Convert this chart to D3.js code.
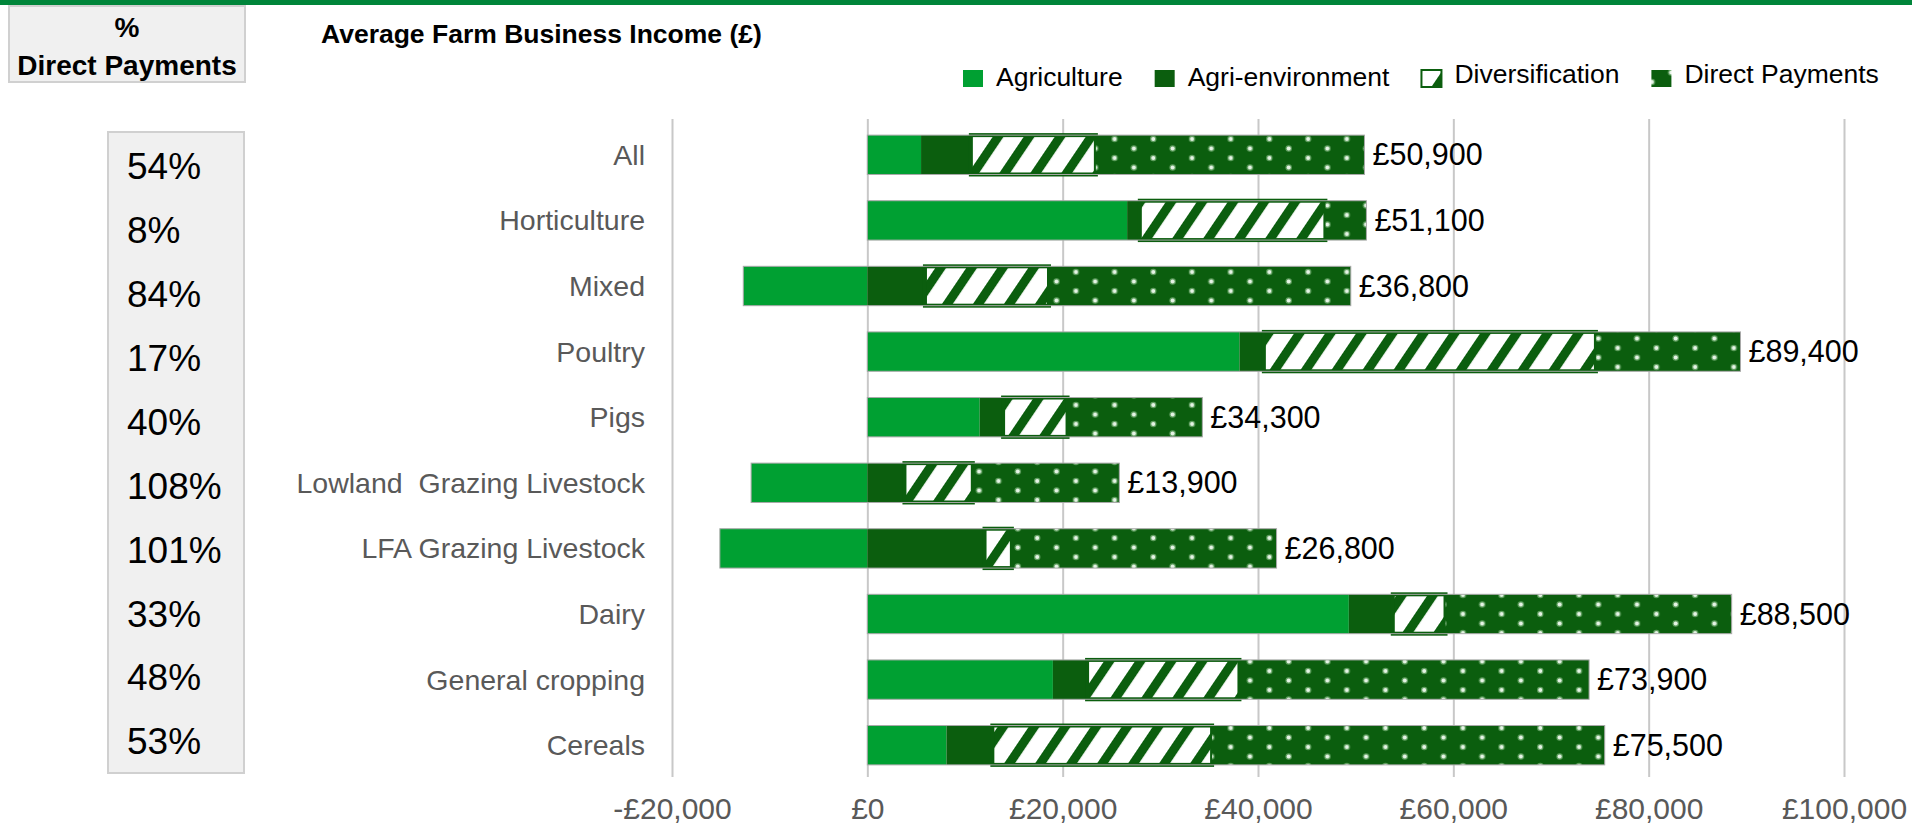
<!DOCTYPE html>
<html>
<head>
<meta charset="utf-8">
<script src="https://cdn.jsdelivr.net/npm/d3@7"></script>
<style>
  body { margin: 0; background: #fff; }
  svg { display: block; font-family: "Liberation Sans", Arial, sans-serif; }
</style>
</head>
<body>
<script>
// values (£ per farm)
const categories = ["All","Horticulture","Mixed","Poultry","Pigs","Lowland  Grazing Livestock","LFA Grazing Livestock","Dairy","General cropping","Cereals"]
const agriculture = [5500, 26600, -12700, 38100, 11500, -11900, -15100, 49300, 19000, 8100]
const agriEnvironment = [5100, 1300, 5900, 2500, 2400, 3800, 12000, 4500, 3500, 4700]
const diversification = [12800, 19000, 12700, 34000, 6600, 7000, 2800, 5400, 15600, 22500]
const directPayments = [27500, 4200, 30900, 14800, 13800, 15000, 27100, 29300, 35800, 40200]
const dpShare = [54, 8, 84, 17, 40, 108, 101, 33, 48, 53]
const seriesNames = ["Agriculture","Agri-environment","Diversification","Direct Payments"]
const xTicks = [-20000, 0, 20000, 40000, 60000, 80000, 100000]

const dark = "#0b5e0e"
const light = "#00a032"
const grey = "#595959"

var svg = d3.select("body").append("svg").attr("width", 1912).attr("height", 826)

// patterns for diversification (stripes) and direct payments (dots)
var defs = svg.append("defs")
var stripes = defs.append("pattern").attr("id", "stripes").attr("patternUnits", "userSpaceOnUse")
  .attr("width", 25.7).attr("height", 10).attr("patternTransform", "rotate(34)")
stripes.append("rect").attr("width", 25.7).attr("height", 10).attr("fill", "#fff")
stripes.append("rect").attr("width", 9).attr("height", 10).attr("fill", dark)

var dots = defs.append("pattern").attr("id", "dots").attr("patternUnits", "userSpaceOnUse")
  .attr("width", 38.7).attr("height", 19)
dots.append("rect").attr("width", 38.7).attr("height", 19).attr("fill", dark)
var dotPos = [[31, 6], [11.6, 15.5]]
dots.selectAll(".halo").data(dotPos).enter().append("circle")
  .attr("cx", d => d[0]).attr("cy", d => d[1]).attr("r", 3.2).attr("fill", "#5f9f5f")
dots.selectAll(".core").data(dotPos).enter().append("circle")
  .attr("cx", d => d[0]).attr("cy", d => d[1]).attr("r", 2).attr("fill", "#e6f4e6")

const fills = [light, dark, "url(#stripes)", "url(#dots)"]

// green rule on top
svg.append("rect").attr("x", 0).attr("y", 0).attr("width", 1912).attr("height", 5).attr("fill", "#00853a")

// "% Direct Payments" header
svg.append("rect").attr("x", 9).attr("y", 6).attr("width", 236).attr("height", 76)
  .attr("fill", "#f0f0f0").attr("stroke", "#d0d0d0").attr("stroke-width", 2)
svg.append("text").text("%").attr("x", 127).attr("y", 27).attr("dy", ".35em")
  .attr("text-anchor", "middle").style("font-weight", "bold").style("font-size", "28px")
svg.append("text").text("Direct Payments").attr("x", 127).attr("y", 65).attr("dy", ".35em")
  .attr("text-anchor", "middle").style("font-weight", "bold").style("font-size", "28px")

// title
svg.append("text").text("Average Farm Business Income (£)").attr("x", 321).attr("y", 34).attr("dy", ".35em")
  .style("font-weight", "bold").style("font-size", "26.5px")

// scales
var x = d3.scaleLinear().domain([-20000, 100000]).range([672, 1844])
var y = d3.scaleBand().domain(categories).range([122, 778]).paddingInner(0.4).paddingOuter(0.2)

// grid + tick labels
var fmt = d3.format(",")
var axis = d3.axisBottom(x).tickValues(xTicks).tickSize(-658).tickPadding(21)
  .tickFormat(d => d < 0 ? "-£" + fmt(-d) : "£" + fmt(d))
var gAxis = svg.append("g").attr("transform", "translate(0,777)").call(axis)
gAxis.select(".domain").remove()
gAxis.selectAll("line").attr("stroke", "#c8c8c8").attr("stroke-width", 2)
gAxis.selectAll("text").attr("fill", grey).style("font-size", "30px").style("font-family", "inherit")

// percentage box
svg.append("rect").attr("x", 108).attr("y", 132).attr("width", 136).attr("height", 641)
  .attr("fill", "#f0f0f0").attr("stroke", "#d0d0d0").attr("stroke-width", 2)
var yPct = d3.scaleBand().domain(categories).range([134, 773])
svg.selectAll(".pct").data(categories).enter().append("text")
  .text((d, i) => dpShare[i] + "%")
  .attr("x", 127).attr("y", d => yPct(d) + yPct.bandwidth() / 2).attr("dy", ".36em")
  .style("font-size", "37px")

// category labels
svg.selectAll(".cat").data(categories).enter().append("text")
  .text(d => d).style("white-space", "pre")
  .attr("x", 645).attr("y", d => y(d) + y.bandwidth() / 2).attr("dy", ".35em")
  .attr("text-anchor", "end").attr("fill", grey).style("font-size", "28.5px")

// stacked bars
var rows = categories.map((c, i) => ({cat: c, a: agriculture[i], b: agriEnvironment[i], c2: diversification[i], d: directPayments[i]}))
var stack = d3.stack().keys(["a", "b", "c2", "d"]).offset(d3.stackOffsetDiverging)
var layers = stack(rows)

svg.selectAll(".layer").data(layers).enter().append("g")
  .attr("fill", (d, i) => fills[i])
  .each(function(layer, li) {
    d3.select(this).selectAll("rect").data(layer).enter().append("rect")
      .attr("x", d => x(Math.min(d[0], d[1])))
      .attr("y", d => y(d.data.cat))
      .attr("width", d => Math.abs(x(d[1]) - x(d[0])))
      .attr("height", y.bandwidth())
      .attr("stroke", li == 2 ? dark : "none").attr("stroke-width", li == 2 ? 4 : 0)
  })

// thin outline round each bar
var lo = d => Math.min(0, d.a)
var hi = d => Math.max(0, d.a) + d.b + d.c2 + d.d
svg.selectAll(".outline").data(rows).enter().append("rect")
  .attr("x", d => x(lo(d)))
  .attr("y", d => y(d.cat))
  .attr("width", d => x(hi(d)) - x(lo(d)))
  .attr("height", y.bandwidth())
  .attr("fill", "none").attr("stroke", "#a9a9a9").attr("stroke-width", 1)

// totals
svg.selectAll(".total").data(rows).enter().append("text")
  .text(d => "£" + fmt(d.a + d.b + d.c2 + d.d))
  .attr("x", d => x(hi(d)) + 8)
  .attr("y", d => y(d.cat) + y.bandwidth() / 2).attr("dy", ".35em")
  .style("font-size", "30.5px")

// legend
var legend = svg.append("g").attr("transform", "translate(963,0)")
var lx = 0
seriesNames.forEach(function(name, i) {
  legend.append("rect").attr("x", lx).attr("y", 70).attr("width", 20).attr("height", 17)
    .attr("fill", fills[i]).attr("stroke", i == 2 ? dark : "none").attr("stroke-width", 2)
  var t = legend.append("text").text(name).attr("x", lx + 33).attr("y", i > 1 ? 74 : 77).attr("dy", ".35em")
    .style("font-size", "26.5px")
  lx += 33 + t.node().getComputedTextLength() + 32
})
</script>
</body>
</html>
